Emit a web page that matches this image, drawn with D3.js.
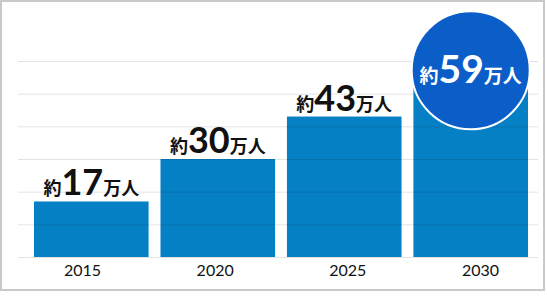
<html>
<head>
<meta charset="utf-8">
<script src="https://cdn.jsdelivr.net/npm/d3@7"></script>
<style>
    body { margin: 0; background: #fff; }
    svg { display: block; font-family: Lato, "Noto Sans CJK JP", sans-serif; }
</style>
</head>
<body>
<svg width="547" height="298"></svg>
<script>
    // data (万人)
    var years = ["2015", "2020", "2025", "2030"];
    var values = [17, 30, 43, 59];
    var gridTicks = [0, 10, 20, 30, 40, 50, 60];

    var svg = d3.select("svg");

    // outer frame
    svg.append("rect")
        .attr("x", 1).attr("y", 1)
        .attr("width", 543).attr("height", 289)
        .attr("fill", "#fff")
        .attr("stroke", "#c9c9c9")
        .attr("stroke-width", 2);

    var xs = d3.scaleBand().domain(years).range([34, 528]).paddingInner(0.094).paddingOuter(0);
    var ys = d3.scaleLinear().domain([0, 60]).range([257, 61]);

    // bars
    svg.append("g").selectAll("rect").data(values).enter().append("rect")
        .attr("x", function (d, i) { return xs(years[i]); })
        .attr("y", function (d) { return ys(d); })
        .attr("width", xs.bandwidth())
        .attr("height", function (d) { return ys(0) - ys(d); })
        .attr("fill", "#0680c4");

    // gridlines on top of bars
    svg.append("g").selectAll("line").data(gridTicks).enter().append("line")
        .attr("x1", 18).attr("x2", 538)
        .attr("y1", function (d) { return ys(d) + 0.5; })
        .attr("y2", function (d) { return ys(d) + 0.5; })
        .attr("stroke", "rgba(0,0,0,0.11)")
        .attr("stroke-width", 1);

    // year labels
    var xl = d3.scalePoint().domain(years).range([82, 480]);
    var axis = svg.append("g")
        .attr("transform", "translate(0,261)")
        .call(d3.axisBottom(xl).tickSize(0).tickPadding(0));
    axis.select(".domain").remove();
    axis.selectAll("text")
        .attr("dy", "0.95em")
        .attr("fill", "#111")
        .style("font-family", "Lato, sans-serif")
        .style("font-size", "16px");

    // value labels for the first bars
    var last = values.length - 1;
    var lbl = svg.append("g").selectAll("text").data(values.slice(0, last)).enter().append("text")
        .attr("x", function (d, i) { return xs(years[i]) + xs.bandwidth() / 2; })
        .attr("y", function (d) { return ys(d) - 6; })
        .attr("text-anchor", "middle")
        .attr("fill", "#111")
        .attr("font-weight", "bold");
    lbl.append("tspan").attr("font-size", 18).text("約");
    lbl.append("tspan").attr("font-size", 36).text(function (d) { return d; });
    lbl.append("tspan").attr("font-size", 18).text("万人");

    // highlighted last value
    var cx = xs(years[last]) + xs.bandwidth() / 2;
    var cy = ys(values[last]) + 6;
    svg.append("circle")
        .attr("cx", cx).attr("cy", cy).attr("r", 59)
        .attr("fill", "#0b5dc8")
        .attr("stroke", "#fff")
        .attr("stroke-width", 2);

    var big = svg.append("text")
        .attr("x", cx).attr("y", cy + 13)
        .attr("text-anchor", "middle")
        .attr("fill", "#fff")
        .attr("font-weight", "bold");
    big.append("tspan").attr("font-size", 19).text("約");
    big.append("tspan").attr("font-size", 39).text(values[last]);
    big.append("tspan").attr("font-size", 19).text("万人");
</script>
</body>
</html>
